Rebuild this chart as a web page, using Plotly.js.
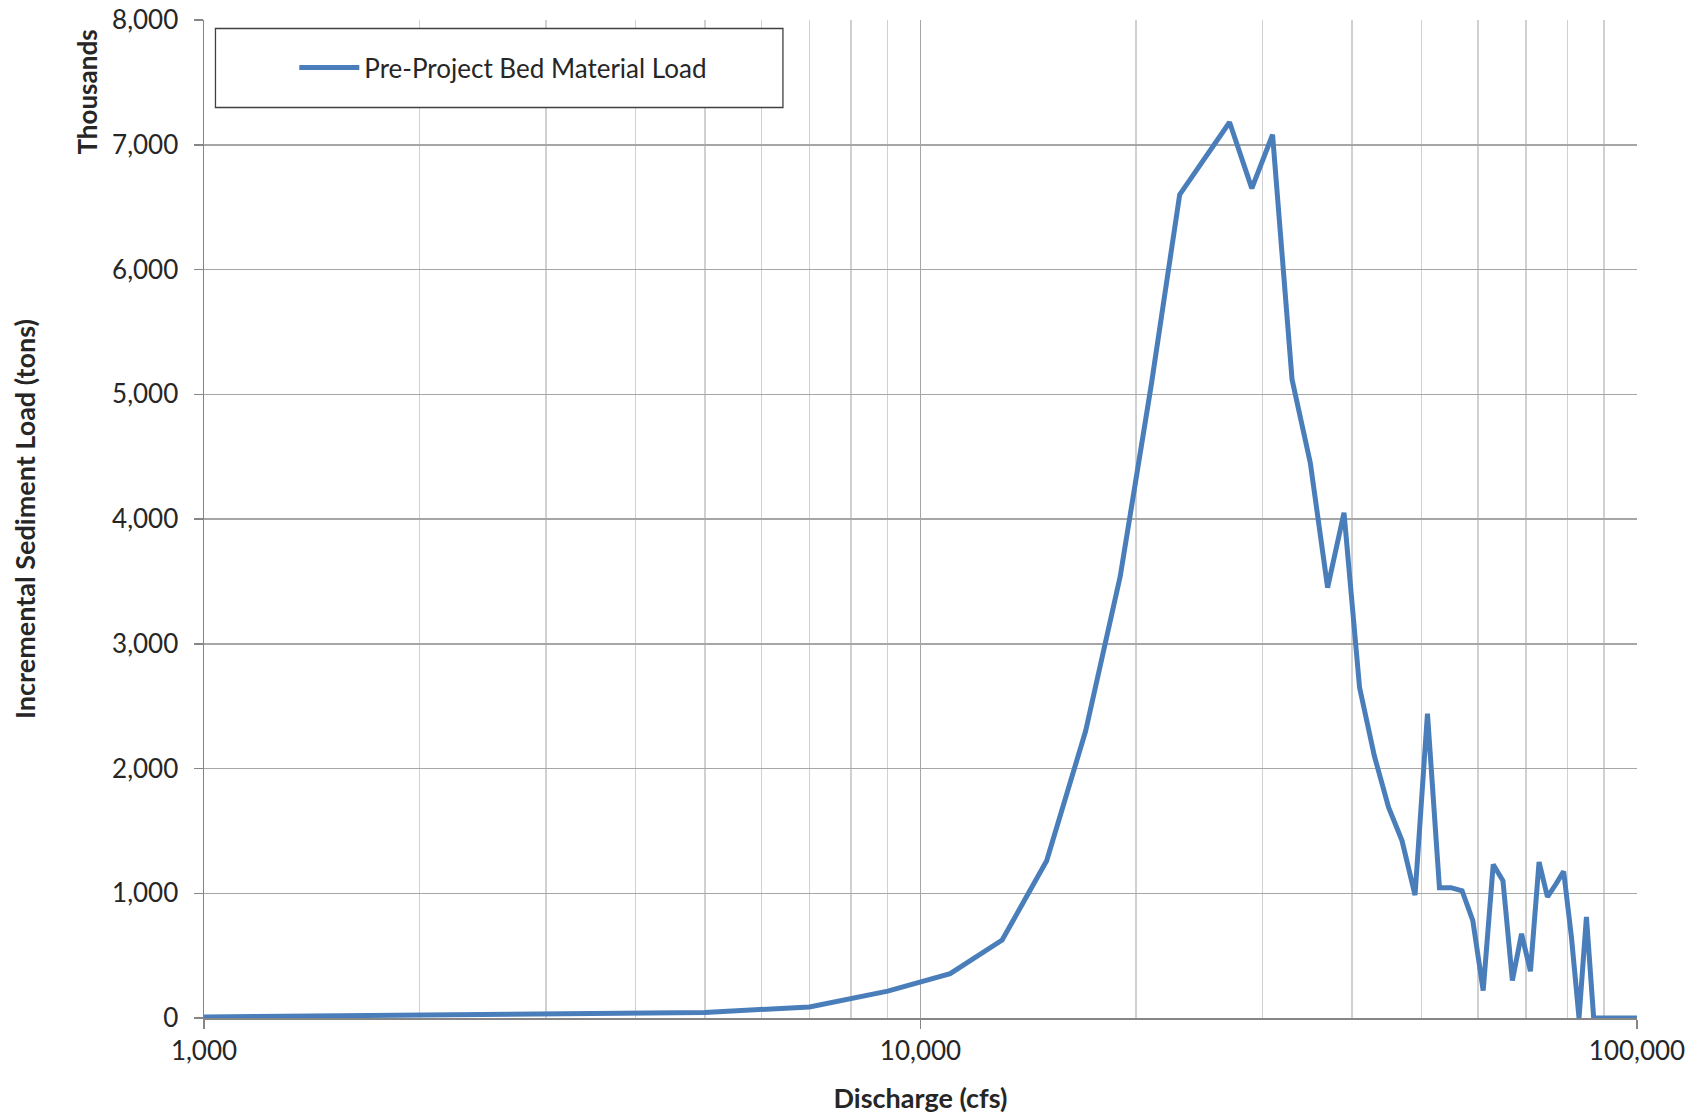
<!DOCTYPE html>
<html>
<head>
<meta charset="utf-8">
<script src="https://cdn.plot.ly/plotly-3.0.1.min.js"></script>
<style>
  html, body { margin: 0; padding: 0; background: #ffffff; }
  #chart { width: 1698px; height: 1115px; }
</style>
</head>
<body>
<div id="chart"></div>
<script>
// Discharge (cfs)
const discharge = [1000, 3000, 5000, 7000, 9000, 11000, 13000, 15000, 17000, 19000,
  21000, 23000, 25000, 27000, 29000, 31000, 33000, 35000, 37000, 39000,
  41000, 43000, 45000, 47000, 49000, 51000, 53000, 55000, 57000, 59000,
  61000, 63000, 65000, 67000, 69000, 71000, 73000, 75000, 77000, 79000,
  81000, 83000, 85000, 87000, 89000, 91000, 93000, 95000, 97000, 99000, 101000];

// Incremental sediment load (thousands of tons)
const bedMaterialLoad = [8, 27, 45, 88, 215, 355, 625, 1260, 2300, 3540,
  5080, 6600, 6900, 7180, 6650, 7080, 5120, 4450, 3450, 4050,
  2650, 2100, 1690, 1420, 985, 2440, 1045, 1045, 1020, 780,
  220, 1230, 1100, 300, 675, 375, 1250, 970, 1070, 1175,
  650, 0, 810, 0, 0, 0, 0, 0, 0, 0, 0];

const seriesName = 'Pre-Project Bed Material Load';
const xTitle = 'Discharge (cfs)';
const yTitle = 'Incremental Sediment Load (tons)';
const unitsLabel = 'Thousands';

const FONT = 'Lato, "Open Sans", "Liberation Sans", sans-serif';
const TXT = '#262626';

const trace = {
  x: discharge,
  y: bedMaterialLoad,
  type: 'scatter',
  mode: 'lines',
  name: seriesName,
  line: { color: '#4a7ebb', width: 5 },
  hoverinfo: 'x+y'
};

const layout = {
  width: 1698,
  height: 1115,
  paper_bgcolor: '#ffffff',
  plot_bgcolor: '#ffffff',
  margin: { l: 204, r: 61, t: 20, b: 97 },
  font: { family: FONT, size: 26, color: TXT },
  showlegend: true,
  legend: {
    x: 0.063, y: 0.9524, xanchor: 'left', yanchor: 'middle',
    bgcolor: 'rgba(0,0,0,0)', borderwidth: 0,
    font: { family: FONT, size: 26, color: TXT },
    itemwidth: 60
  },
  xaxis: {
    type: 'log',
    range: [3, 5],
    dtick: 1,
    tickformat: ',d',
    showline: true, linecolor: '#868686', linewidth: 1.5,
    ticks: 'outside', ticklen: 9, tickcolor: '#868686', tickwidth: 1.5,
    showgrid: true, gridcolor: '#a6a6a6', gridwidth: 1.5,
    minor: { dtick: 'D1', showgrid: true, gridcolor: '#d0d0d0', gridwidth: 1.5, ticks: '' },
    zeroline: false,
    tickfont: { family: FONT, size: 26, color: TXT },
    title: { text: '<b>' + xTitle + '</b>', font: { family: FONT, size: 27, color: TXT }, standoff: 24 }
  },
  yaxis: {
    range: [0, 8000],
    dtick: 1000,
    tickformat: ',d',
    showline: true, linecolor: '#868686', linewidth: 1.5,
    ticks: 'outside', ticklen: 9, tickcolor: '#868686', tickwidth: 1.5,
    ticklabelstandoff: 10,
    showgrid: true, gridcolor: '#a6a6a6', gridwidth: 1.5,
    zeroline: false,
    tickfont: { family: FONT, size: 26, color: TXT },
    title: { text: '<b>' + yTitle + '</b>', font: { family: FONT, size: 27, color: TXT }, standoff: 68 }
  },
  shapes: [{
    type: 'rect', xref: 'paper', yref: 'paper',
    x0: 0.008, x1: 0.404, y0: 0.9123, y1: 0.9915,
    line: { color: '#404040', width: 1.3 },
    fillcolor: 'rgba(255,255,255,1)',
    layer: 'above'
  }],
  annotations: [{
    xref: 'paper', yref: 'paper',
    x: -0.0816, y: 0.9274,
    text: '<b>' + unitsLabel + '</b>',
    textangle: -90,
    showarrow: false,
    font: { family: FONT, size: 26, color: TXT },
    xanchor: 'center', yanchor: 'middle'
  }]
};

Plotly.newPlot('chart', [trace], layout, { displayModeBar: false, staticPlot: true });
</script>
</body>
</html>
